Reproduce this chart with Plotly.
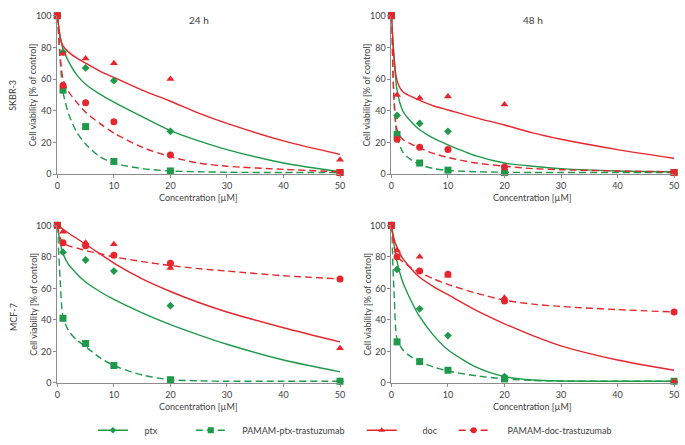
import plotly.graph_objects as go

# ---------------- data ----------------
conc = [0, 1, 5, 10, 20, 50]
curve_x = [0, 0.5, 1, 2, 3.5, 5, 7.5, 10, 15, 20, 25, 30, 40, 50]

panels = ["SKBR-3 24 h", "SKBR-3 48 h", "MCF-7 24 h", "MCF-7 48 h"]
series_names = ["ptx", "PAMAM-ptx-trastuzumab", "doc", "PAMAM-doc-trastuzumab"]

# measured points (% of control)
ptx_pts = [
    [100, 77, 67, 59, 27, 1],
    [100, 37, 32, 27, 1, 1],
    [100, 83, 78, 71, 49, 1],
    [100, 72, 47, 30, 4, 1],
]
pamam_ptx_pts = [
    [100, 53, 30, 8, 2, 1],
    [100, 25, 7, 2.5, 1, 1],
    [100, 41, 25, 11, 2, 1],
    [100, 26, 13.5, 8, 2.5, 1],
]
doc_pts = [
    [100, 76, 73, 70, 60, 9],
    [100, 50, 48, 49, 44, 1],
    [100, 96, 89, 88, 73, 22],
    [100, 84, 80, 68, 54, 1],
]
pamam_doc_pts = [
    [100, 56, 45, 33, 12, 1],
    [100, 22, 17, 15.5, 4.5, 1],
    [100, 89, 87, 81, 76, 66],
    [100, 80, 71, 69, 52, 45],
]

# fitted curves at curve_x
ptx_fit = [
    [100, 87, 79, 71, 62.3, 56.7, 50.5, 45.5, 36.3, 27.5, 21, 15.5, 7, 1.5],
    [100, 72, 53, 40, 33, 28, 22.5, 18.5, 11.5, 7, 5, 3.5, 2, 1.5],
    [100, 89, 82, 75, 69, 64, 58, 53, 44.5, 37, 30.5, 24.5, 14.5, 7],
    [100, 87, 77, 64, 52, 42, 30, 21, 10, 4, 1.8, 1.2, 1, 1],
]
pamam_ptx_fit = [
    [100, 72, 52, 38, 26, 19, 11, 7, 3.5, 2, 1.5, 1.2, 1, 1],
    [100, 45, 24, 14, 9, 6, 3.5, 2.3, 1.5, 1.2, 1, 1, 1, 1],
    [100, 65, 42, 33, 27, 23, 16, 11, 5, 2, 1.3, 1, 1, 1],
    [100, 55, 28, 21, 16.5, 13.5, 10, 7.5, 4.5, 2.5, 1.5, 1.2, 1, 1],
]
doc_fit = [
    [100, 86, 81, 77, 73, 70, 65, 61, 53, 46, 38.5, 32, 21, 12.5],
    [100, 72, 59, 52, 49, 46.5, 43, 40.5, 35.5, 31, 26, 22, 15.5, 10],
    [100, 99, 97.5, 95, 91.5, 88, 82, 76, 66, 58, 51, 45, 35, 26],
    [100, 91, 86, 79, 72.5, 67, 61, 56, 46, 37.5, 30, 23.5, 14.5, 8],
]
pamam_doc_fit = [
    [100, 75, 60, 52, 45, 39, 32, 26, 17, 11, 7, 5, 3, 1.5],
    [100, 45, 28, 22, 19, 16.5, 13, 10.5, 7, 5, 3.5, 2.8, 2, 1.5],
    [100, 92, 89, 87, 85.5, 84, 82, 80, 77, 74.5, 72.5, 71, 68, 66],
    [100, 86, 80, 77, 73, 70, 66, 62.5, 57, 52.5, 50, 48.5, 46.5, 45],
]

x_ticks = [0, 10, 20, 30, 40, 50]
y_ticks = [0, 20, 40, 60, 80, 100]
col_titles = ["24 h", "48 h"]
row_titles = ["SKBR-3", "MCF-7"]
x_title = "Concentration [µM]"
y_title = "Cell viability [% of control]"

# ---------------- style ----------------
GREEN = "#1e9a4a"
RED = "#e6262c"
FONT = "Lato"
TXT = "#404040"
W, H = 685, 445
DASH = "7px,4px"
NB = "\u00a0"

xdom = [[55 / W, 341 / W], [393 / W, 679 / W]]
ydom = [[1 - 174 / H, 1 - 10 / H], [1 - 390 / H, 1 - 227 / H]]

# legend layout: line start (px) and extra gap before the text
leg_line_start = [98, 197, 370, 463]
leg_text_pad = [5, 5, 9, 6]
LEG_Y = 439

fig = go.Figure()

fits = [ptx_fit, pamam_ptx_fit, doc_fit, pamam_doc_fit]
pts = [ptx_pts, pamam_ptx_pts, doc_pts, pamam_doc_pts]
colors = [GREEN, GREEN, RED, RED]
dashes = ["solid", DASH, "solid", DASH]
symbols = ["diamond", "square", "triangle-up", "circle"]
msizes = [6, 7, 7, 7]

for p in range(4):
    xa = "x" if p == 0 else f"x{p + 1}"
    ya = "y" if p == 0 else f"y{p + 1}"
    for s in range(4):
        fig.add_trace(go.Scatter(
            x=curve_x, y=fits[s][p], mode="lines", xaxis=xa, yaxis=ya,
            line=dict(color=colors[s], width=1.4, dash=dashes[s], shape="spline", smoothing=0.8),
            showlegend=False, hoverinfo="skip", cliponaxis=False))
    for s in range(4):
        sym = symbols[s]
        if s == 3:
            sym = ["square"] + ["circle"] * 4 + (["square"] if p < 2 else ["circle"])
        fig.add_trace(go.Scatter(
            x=conc, y=pts[s][p], mode="markers", xaxis=xa, yaxis=ya,
            marker=dict(color=colors[s], symbol=sym, size=msizes[s], line=dict(width=0)),
            showlegend=False, cliponaxis=False))

# legend entries, one legend per entry for exact placement
legend_layouts = {}
for s in range(4):
    lname = "legend" if s == 0 else f"legend{s + 1}"
    fig.add_trace(go.Scatter(
        x=[None], y=[None], mode="lines+markers",
        name=NB * leg_text_pad[s] + series_names[s],
        line=dict(color=colors[s], width=1.4, dash=dashes[s]),
        marker=dict(color=colors[s], symbol=symbols[s], size=msizes[s] - 1),
        showlegend=True, legend=lname))
    legend_layouts[lname] = dict(
        orientation="h", x=(leg_line_start[s] - 7) / W, xanchor="left",
        y=1 - LEG_Y / H, yanchor="middle",
        font=dict(family=FONT, size=9, color=TXT), itemwidth=30,
        bgcolor="rgba(0,0,0,0)")

axis_common = dict(
    showgrid=False, zeroline=False, showline=True, linecolor="#8c8c8c", linewidth=1,
    ticks="outside", ticklen=3, tickcolor="#8c8c8c",
    tickfont=dict(family=FONT, size=9, color=TXT),
)
layout = dict(
    width=W, height=H, margin=dict(l=0, r=0, t=0, b=0),
    plot_bgcolor="white", paper_bgcolor="white",
    font=dict(family=FONT, size=9, color=TXT),
    showlegend=True,
    **legend_layouts,
)
for p in range(4):
    c, r = p % 2, p // 2
    xk = "xaxis" if p == 0 else f"xaxis{p + 1}"
    yk = "yaxis" if p == 0 else f"yaxis{p + 1}"
    ya = "y" if p == 0 else f"y{p + 1}"
    xa = "x" if p == 0 else f"x{p + 1}"
    layout[xk] = dict(axis_common, domain=xdom[c], range=[0, 50], tickvals=x_ticks, anchor=ya)
    layout[yk] = dict(axis_common, domain=ydom[r], range=[0, 100], tickvals=y_ticks, anchor=xa)
fig.update_layout(**layout)

ann = []
def add_ann(text, xp, yp, angle=0, size=9):
    ann.append(dict(text=text, x=xp / W, y=1 - yp / H, xref="paper", yref="paper",
                    showarrow=False, xanchor="center", yanchor="middle", textangle=angle,
                    font=dict(size=size)))

for c in range(2):
    add_ann(col_titles[c], (xdom[c][0] + xdom[c][1]) / 2 * W, 14, size=10)
for r in range(2):
    top_px = (1 - ydom[r][1]) * H
    bot_px = (1 - ydom[r][0]) * H
    mid_px = (top_px + bot_px) / 2
    for c in range(2):
        xm = (xdom[c][0] + xdom[c][1]) / 2 * W
        add_ann(x_title, xm, bot_px + 24)
        add_ann(y_title, 30 if c == 0 else 368, mid_px, angle=-90)
    add_ann(row_titles[r], 10, 92 if r == 0 else 322, angle=-90)
fig.update_layout(annotations=ann)

fig.write_html("out.html", config={"displayModeBar": False},
               post_script="document.body.style.margin='0';")
